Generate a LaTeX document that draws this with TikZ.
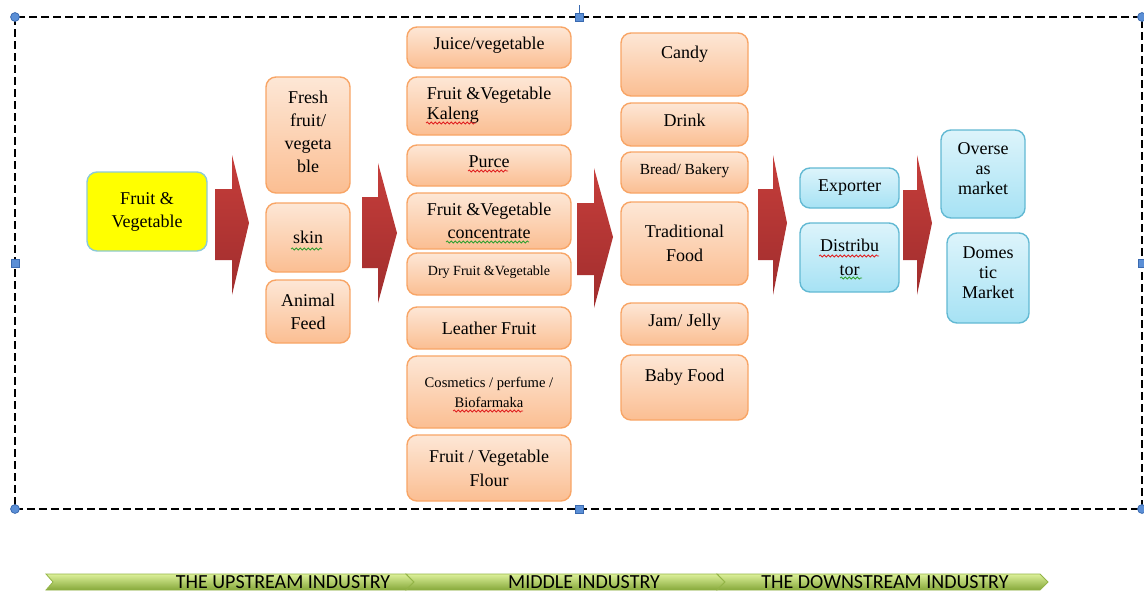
\documentclass[tikz,border=0pt]{standalone}
\usepackage{fontspec}
\setmainfont{Liberation Serif}
\newfontfamily\barfont{Carlito}
\usetikzlibrary{positioning, decorations.pathmorphing}
\definecolor{otop}{HTML}{FDE7D6}
\definecolor{obot}{HTML}{FBBE92}
\definecolor{oedge}{HTML}{F8A566}
\definecolor{btop}{HTML}{DDF4FB}
\definecolor{bbot}{HTML}{A6E2F4}
\definecolor{bedge}{HTML}{62B9D3}
\definecolor{yedge}{HTML}{8CCAD6}
\definecolor{arrtop}{HTML}{C63E3B}
\definecolor{arrbot}{HTML}{A02D2D}
\definecolor{gtop}{HTML}{DCF09A}
\definecolor{gmid}{HTML}{B4D65E}
\definecolor{gbot}{HTML}{86A83A}
\definecolor{gedge}{HTML}{93B447}
\definecolor{hfill}{HTML}{5B8FD6}
\definecolor{hedge}{HTML}{3A6AB0}
\definecolor{wavered}{HTML}{E02020}
\definecolor{wavegreen}{HTML}{30A030}
\tikzset{
  obox/.style={draw=oedge, line width=0.7pt, rounded corners=5pt, top color=otop, bottom color=obot, align=center, inner sep=1pt, font=\fontsize{9}{11.5}\selectfont},
  bbox/.style={obox, draw=bedge, top color=btop, bottom color=bbot},
  ybox/.style={obox, draw=yedge, top color=yellow, bottom color=yellow},
  bigarrow/.style={top color=arrtop, bottom color=arrbot},
  frame/.style={line width=1.4pt, dash pattern=on 4pt off 2pt},
  handle/.style={draw=hedge, fill=hfill, line width=0.4pt},
  barpart/.style={draw=gedge, line width=0.4pt, top color=gtop, middle color=gmid, bottom color=gbot},
  bartext/.style={font=\barfont\fontsize{10}{10}\selectfont, inner sep=0pt},
  wave/.style={#1, line width=0.4pt, decorate, decoration={snake, amplitude=0.5pt, segment length=2pt}}
}
\begin{document}
\begin{tikzpicture}[x=0.5pt, y=-0.5pt]
\useasboundingbox (0,0) rectangle (1144,594);
% selection frame
\draw[frame] (15,17) rectangle (1142,509);
\draw[hedge, line width=0.5pt] (579,5) -- (579,13);
\draw[handle] (575,13) rectangle (583,21);
\draw[handle] (575,505) rectangle (583,513);
\draw[handle] (11,259) rectangle (19,267);
\draw[handle] (1138,259) rectangle (1146,267);
\foreach \p in {(15,17),(1142,17),(15,509),(1142,509)}
  \draw[handle] \p circle (2.2pt);
% block arrows
\foreach \xa/\xb/\xc/\sa/\sb/\ha/\hb/\yt in {215/232/249/189/260/155/295/223, 362/378/397/197/268/163/303/233, 577/594/613/203/275/168/308/237, 758/773/787/189/260/155/295/223, 903/917/932/190/260/155/295/223}
  \shade[bigarrow] (\xa,\sa) -- (\xb,\sa) -- (\xb,\ha) -- (\xc,\yt) -- (\xb,\hb) -- (\xb,\sb) -- (\xa,\sb) -- cycle;
% raw material
\node[ybox, minimum width=60pt, minimum height=39.5pt] (fv) at (147,211.5) {Fruit \&\\Vegetable};
% upstream
\node[obox, minimum width=42pt, minimum height=58pt, text depth=3pt] (fresh) at (308,135) {Fresh\\fruit/\\vegeta\\ble};
\node[obox, minimum width=42pt, minimum height=34.5pt] (skin) at (308,237.5) {skin};
\node[obox, minimum width=42pt, minimum height=31.5pt] (feed) at (308,311.5) {Animal\\Feed};
% middle
\node[obox, minimum width=82pt, minimum height=20.5pt, text depth=4pt] (juice) at (489,47.5) {Juice/vegetable};
\node[obox, minimum width=82pt, minimum height=29pt, align=left, font=\fontsize{9}{9.8}\selectfont, text depth=2.5pt] (kaleng) at (489,106) {Fruit \&Vegetable\\Kaleng};
\node[obox, minimum width=82pt, minimum height=20.5pt, text depth=4pt] (purce) at (489,165.5) {Purce};
\node[obox, minimum width=82pt, minimum height=28pt] (conc) at (489,221) {Fruit \&Vegetable\\concentrate};
\node[obox, minimum width=82pt, minimum height=21pt, font=\fontsize{7}{9}\selectfont, text depth=3pt] (dry) at (489,274) {Dry Fruit \&Vegetable};
\node[obox, minimum width=82pt, minimum height=21pt] (leather) at (489,328) {Leather Fruit};
\node[obox, minimum width=82pt, minimum height=36pt, font=\fontsize{7.3}{10}\selectfont] (cosm) at (489,392) {Cosmetics / perfume /\\Biofarmaka};
\node[obox, minimum width=82pt, minimum height=33pt, font=\fontsize{9}{12}\selectfont] (flour) at (489,468) {Fruit / Vegetable\\Flour};
% downstream
\node[obox, minimum width=63.5pt, minimum height=31.5pt, text depth=12pt] (candy) at (684.5,64.5) {Candy};
\node[obox, minimum width=63.5pt, minimum height=21.5pt, text depth=4.5pt] (drink) at (684.5,124.5) {Drink};
\node[obox, minimum width=63.5pt, minimum height=20.5pt, font=\fontsize{7.7}{9}\selectfont, text depth=3.5pt] (bread) at (684.5,172.5) {Bread/ Bakery};
\node[obox, minimum width=63.5pt, minimum height=41.5pt, font=\fontsize{9}{12}\selectfont] (trad) at (684.5,243.5) {Traditional\\Food};
\node[obox, minimum width=63.5pt, minimum height=21pt, text depth=4pt] (jam) at (684.5,324) {Jam/ Jelly};
\node[obox, minimum width=63.5pt, minimum height=32.5pt, text depth=12.5pt] (baby) at (684.5,387.5) {Baby Food};
% distribution
\node[bbox, minimum width=49.5pt, minimum height=20pt] (exporter) at (849.5,188) {Exporter};
\node[bbox, minimum width=49.5pt, minimum height=34.5pt, font=\fontsize{9}{12}\selectfont] (distrib) at (849.5,257.5) {Distribu\\tor};
% markets
\node[bbox, minimum width=42pt, minimum height=44pt, font=\fontsize{9}{10}\selectfont, text depth=5pt] (overseas) at (983,174) {Overse\\as\\market};
\node[bbox, minimum width=41pt, minimum height=45pt, font=\fontsize{9}{10}\selectfont, text depth=5.5pt] (domestic) at (988,278) {Domes\\tic\\Market};
% spelling marks
\draw[wave=wavegreen] (291,249) -- (322,249);
\draw[wave=wavered] (426,123) -- (476,123);
\draw[wave=wavered] (468,171) -- (508,171);
\draw[wave=wavegreen] (446,242) -- (529,242);
\draw[wave=wavered] (453,411) -- (523,411);
\draw[wave=wavered] (819,256) -- (879,256);
\draw[wave=wavegreen] (840,278) -- (862,278);
% industry bar
\shade[barpart] (46,574) -- (406,574) -- (414,582) -- (406,590) -- (46,590) -- (53,582) -- cycle;
\shade[barpart] (406,574) -- (717,574) -- (725,582) -- (717,590) -- (406,590) -- (414,582) -- cycle;
\shade[barpart] (717,574) -- (1040,574) -- (1048,582) -- (1040,590) -- (717,590) -- (725,582) -- cycle;
\node[bartext] (up) at (283,582) {THE UPSTREAM INDUSTRY};
\node[bartext] (mid) at (584,582) {MIDDLE INDUSTRY};
\node[bartext] (down) at (885,582) {THE DOWNSTREAM INDUSTRY};
\end{tikzpicture}
\end{document}
